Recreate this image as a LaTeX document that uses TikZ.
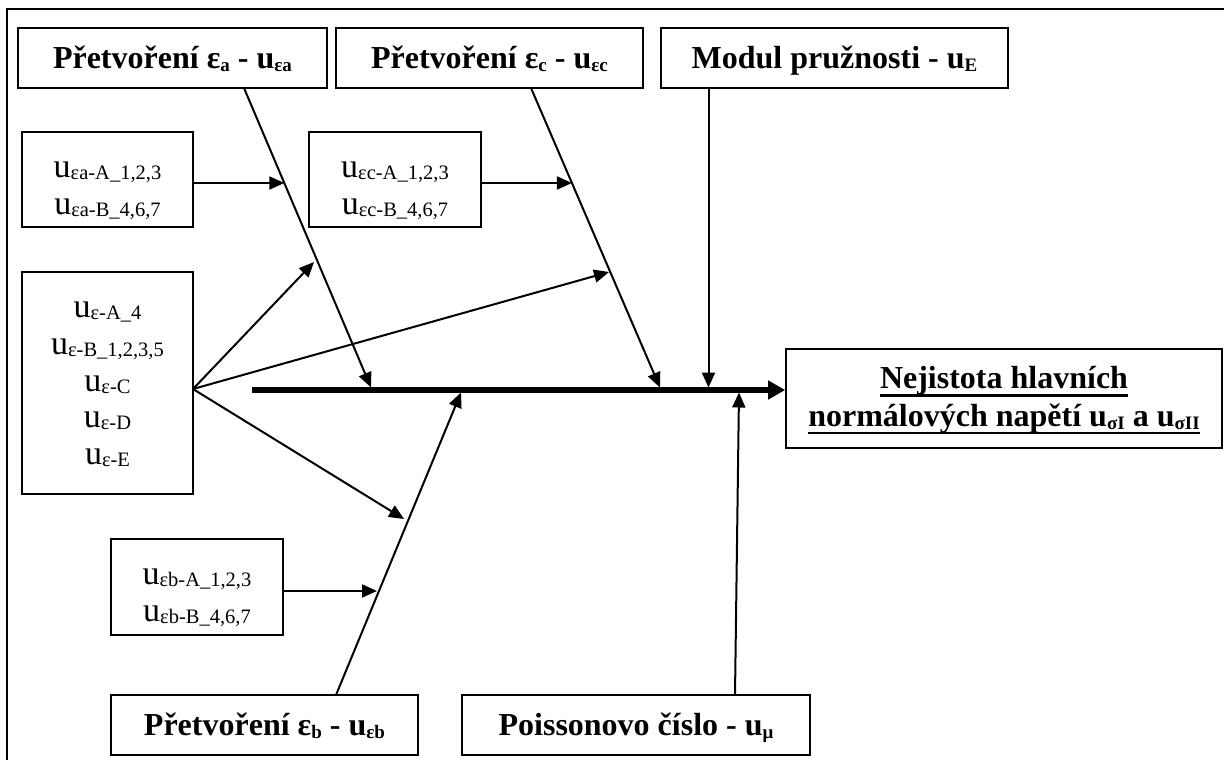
\documentclass[tikz,border=0pt]{standalone}
\usepackage{fontspec}
\setmainfont{Liberation Serif}
\usetikzlibrary{arrows.meta}
\newcommand{\hsub}[1]{\raisebox{-3pt}{\fontsize{19}{19}\selectfont #1}}
\newcommand{\ssub}[1]{\raisebox{-2pt}{\fontsize{20.5}{20}\selectfont #1}}
\begin{document}
\begin{tikzpicture}[x=1pt,y=-1pt,
  box/.style={draw, line width=1.6pt, inner sep=0pt},
  head/.style={font=\fontsize{32}{36}\selectfont\bfseries, anchor=base, inner sep=0pt},
  small/.style={font=\fontsize{34}{36}\selectfont, anchor=base, inner sep=0pt},
  con/.style={line width=2pt},
  arr/.style={con, -{Triangle[length=15pt,width=13pt]}},
  spinearr/.style={line width=5.5pt, -{Triangle[length=17pt,width=18pt]}}]
\useasboundingbox (0,0) rectangle (1224,760);
% frame (top and left edges)
\coordinate (fTL) at (7,9);
\coordinate (fTR) at (1226,9);
\coordinate (fBL) at (7,762);
\draw[line width=2.2pt] (fTR) -- (fTL) -- (fBL);

% heading boxes
\node[box, minimum width=309pt, minimum height=60pt] (ha) at (172.5,58) {};
\node[head] (ha-t) at (172.5,68.5) {Přetvoření ε\hsub{a} - u\hsub{εa}};
\node[box, minimum width=307pt, minimum height=60pt] (hc) at (489.5,58) {};
\node[head] (hc-t) at (489.5,68.5) {Přetvoření ε\hsub{c} - u\hsub{εc}};
\node[box, minimum width=347pt, minimum height=60pt] (hE) at (834.5,58) {};
\node[head] (hE-t) at (834.5,68.5) {Modul pružnosti - u\hsub{E}};
\node[box, minimum width=307pt, minimum height=60pt] (hb) at (264.5,725) {};
\node[head] (hb-t) at (264.5,735.5) {Přetvoření ε\hsub{b} - u\hsub{εb}};
\node[box, minimum width=348pt, minimum height=60pt] (hmu) at (636,725) {};
\node[head] (hmu-t) at (636,735.5) {Poissonovo číslo - u\hsub{μ}};

% effect box
\node[box, minimum width=436pt, minimum height=99pt] (eff) at (1004,398.5) {};
\node[head] (eff-t1) at (1004,388) {Nejistota hlavních};
\node[head] (eff-t2) at (1004,426) {normálových napětí u\hsub{σI} a u\hsub{σII}};
\draw[line width=2.2pt] ([yshift=-7.5pt]eff-t1.base west) -- ([yshift=-7.5pt]eff-t1.base east);
\draw[line width=2.2pt] ([yshift=-7pt]eff-t2.base west) -- ([yshift=-7pt]eff-t2.base east);

% source boxes
\node[box, minimum width=171pt, minimum height=95pt] (sa) at (107.5,179.5) {};
\node[small] (sa-t1) at (107.5,177) {u\ssub{εa-A\_1,2,3}};
\node[small] (sa-t2) at (107.5,214) {u\ssub{εa-B\_4,6,7}};
\node[box, minimum width=172pt, minimum height=95pt] (sc) at (395,179.5) {};
\node[small] (sc-t1) at (395,177) {u\ssub{εc-A\_1,2,3}};
\node[small] (sc-t2) at (395,214) {u\ssub{εc-B\_4,6,7}};
\node[box, minimum width=171pt, minimum height=222pt] (se) at (107.5,383) {};
\node[small] (se-t1) at (107.5,317) {u\ssub{ε-A\_4}};
\node[small] (se-t2) at (107.5,354) {u\ssub{ε-B\_1,2,3,5}};
\node[small] (se-t3) at (107.5,391) {u\ssub{ε-C}};
\node[small] (se-t4) at (107.5,427) {u\ssub{ε-D}};
\node[small] (se-t5) at (107.5,464) {u\ssub{ε-E}};
\node[box, minimum width=172pt, minimum height=96pt] (sb) at (197,587) {};
\node[small] (sb-t1) at (197,584.5) {u\ssub{εb-A\_1,2,3}};
\node[small] (sb-t2) at (197,621) {u\ssub{εb-B\_4,6,7}};

% spine
\coordinate (s0) at (252,390);
\draw[spinearr] (s0) -- (s0 -| eff.west);

% main bones
\coordinate (a0) at (244,88);   \coordinate (aT) at (371,387.5);
\coordinate (c0) at (531,88);   \coordinate (cT) at (660,387.5);
\coordinate (E0) at (708.5,88); \coordinate (ET) at (708.5,387.5);
\coordinate (b0) at (336,695);  \coordinate (bT) at (461,392.5);
\coordinate (m0) at (735,695);  \coordinate (mT) at (739,392.5);
\draw[arr] (a0) -- (aT);
\draw[arr] (c0) -- (cT);
\draw[arr] (E0) -- (ET);
\draw[arr] (b0) -- (bT);
\draw[arr] (m0) -- (mT);

% branches
\coordinate (ta) at (284.3,183);
\coordinate (tc) at (571.9,183);
\coordinate (tb) at (377,591);
\draw[arr] ([yshift=-3.5pt]sa.east) -- (ta);
\draw[arr] ([yshift=-3.5pt]sc.east) -- (tc);
\draw[arr] ([yshift=-4pt]sb.east) -- (tb);

% fan from the common box
\coordinate (f0) at (193,389);
\coordinate (f1) at (314,262);
\coordinate (f2) at (609,272);
\coordinate (f3) at (404,519);
\draw[arr] (f0) -- (f1);
\draw[arr] (f0) -- (f2);
\draw[arr] (f0) -- (f3);
\end{tikzpicture}
\end{document}
